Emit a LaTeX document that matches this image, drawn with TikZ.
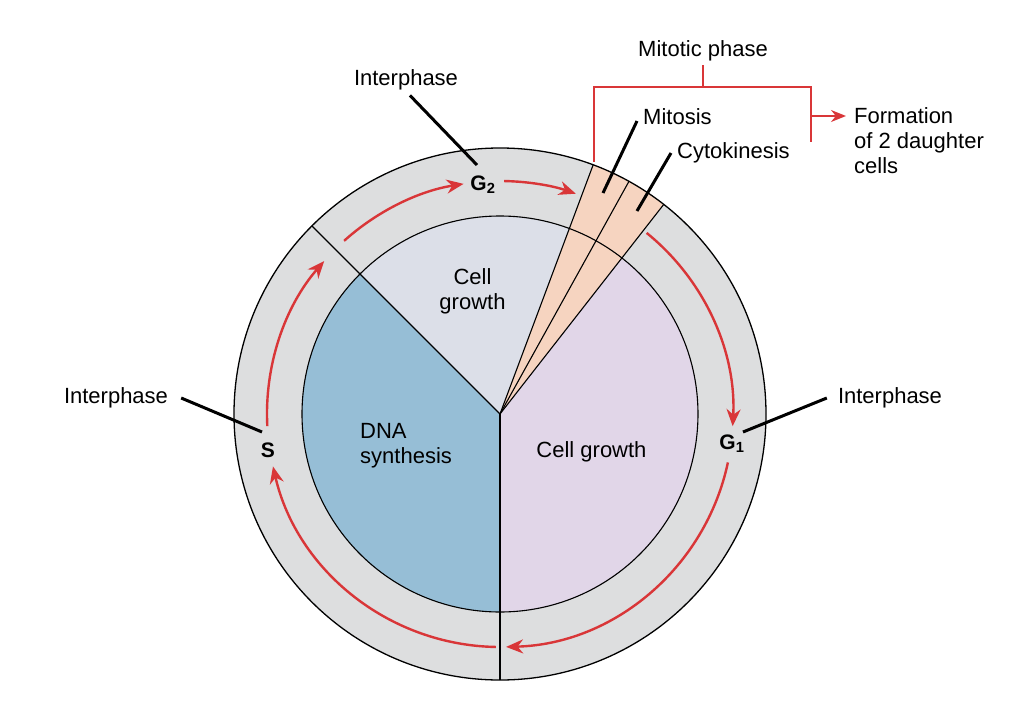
\documentclass[tikz,border=0pt]{standalone}
\usepackage{fontspec}
\setmainfont{Liberation Sans}
\usetikzlibrary{arrows.meta}

\definecolor{ringgray}{RGB}{221,222,223}
\definecolor{dnablue}{RGB}{150,190,214}
\definecolor{growgray}{RGB}{220,223,232}
\definecolor{growlilac}{RGB}{225,214,232}
\definecolor{mitopeach}{RGB}{246,212,192}
\definecolor{cyclered}{RGB}{217,54,56}

\begin{document}
\begin{tikzpicture}[x=1pt,y=1pt,
	txt/.style={font=\fontsize{22}{25}\selectfont, inner sep=0pt},
	phase/.style={font=\fontsize{21}{23}\selectfont\bfseries, inner sep=0pt},
	leader/.style={line width=3pt, black},
	cyc/.style={-{Stealth[length=17pt,width=14pt]}, line width=2.4pt, cyclered},
	bracket/.style={line width=2pt, cyclered}]
				\useasboundingbox (-500,-310) rectangle (512,414);
				% ring and pie
				\fill[ringgray] (0,0) circle (266);
				\fill[dnablue] (0,0) -- (135:198) arc[start angle=135,end angle=270,radius=198] -- cycle;
				\fill[growgray] (0,0) -- (69.5:198) arc[start angle=69.5,end angle=135,radius=198] -- cycle;
				\fill[growlilac] (0,0) -- (-90:198) arc[start angle=-90,end angle=52,radius=198] -- cycle;
				\fill[mitopeach] (0,0) -- (52:266) arc[start angle=52,end angle=69.5,radius=266] -- cycle;
				\draw[line width=1.3pt] (0,0) circle (266);
				\draw[line width=1.1pt] (0,0) circle (198);
				\foreach \a in {135,270,69.5,61,52}
					\draw[line width=1.1pt] (0,0) -- (\a:266);
				% cycle arrows
				\foreach \s/\e in {183/139,132/99,89/71,51/-3,-12/-88.5,-91/-167}
					\draw[cyc] (\s:233) arc[start angle=\s,end angle=\e,radius=233];
				% pie texts
				\node[txt, align=center] (CG1) at (-27.5,122.5) {Cell\\growth};
				\node[txt, align=left, anchor=west] (DNA) at (-140,-31.5) {DNA\\synthesis};
				\node[txt] (CG2) at (91.5,-38) {Cell growth};
				% phases
				\node[phase] (G2) at (-17,229) {G\textsubscript{2}};
				\node[phase] (S) at (-232,-36) {S};
				\node[phase] (G1) at (232,-30) {G\textsubscript{1}};
				\node[txt] (I1) at (-94,334) {Interphase};
				\node[txt] (I2) at (-384,16) {Interphase};
				\node[txt] (I3) at (390,16) {Interphase};
				\coordinate (G2') at (-23,249);
				\coordinate (S') at (-238,-18);
				\coordinate (G1') at (243,-18);
				\draw[leader] ([shift={(4,-5)}]I1.south) -- (G2');
				\draw[leader] ([xshift=13]I2.east) -- (S');
				\draw[leader] ([xshift=-11]I3.west) -- (G1');
				% mitotic phase
				\node[txt, anchor=west] (M) at (143,297) {Mitosis};
				\node[txt, anchor=west] (C) at (177,261) {Cytokinesis};
				\coordinate (M') at (103,221);
				\coordinate (C') at (137,203);
				\draw[leader] ([shift={(-6,-4)}]M.west) -- (M');
				\draw[leader] ([shift={(-6,0)}]C.west) -- (C');
				\node[txt] (MP) at (203,363) {Mitotic phase};
				\node[txt, align=left, anchor=west] (F) at (354,273) {Formation\\of 2 daughter\\cells};
				\coordinate (BL) at (94,252);
				\coordinate (BR) at (311,272);
				\coordinate (BA) at (311,298);
				\coordinate (F') at (346,298);
				\draw[bracket] (MP.south |- 0,349) -- (MP.south |- BL |- 0,327);
				\draw[bracket] (BL) |- (BR |- 0,327) -- (BR);
				\draw[bracket, -{Stealth[length=15pt,width=12pt]}] (BA) -- (F');
				\end{tikzpicture}
\end{document}
